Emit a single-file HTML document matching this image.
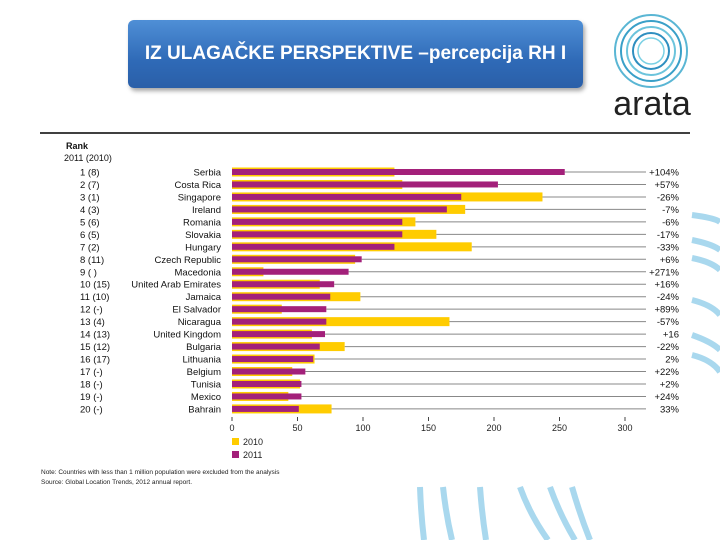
<!DOCTYPE html>
<html><head><meta charset="utf-8">
<style>
html,body{margin:0;padding:0;background:#fff;width:720px;height:540px;overflow:hidden;font-family:"Liberation Sans",sans-serif;}
#title{position:absolute;left:128px;top:20px;width:455px;height:68px;border-radius:6px;background:linear-gradient(#4f8fd6,#2f6ab7 60%,#2a5fa8);box-shadow:2px 3px 4px rgba(0,0,0,0.35);color:#fff;font-weight:bold;font-size:19px;line-height:68px;text-align:center;}
</style></head><body>
<div id="title">IZ ULAGAČKE PERSPEKTIVE –percepcija RH I</div>
<svg id="chart" width="720" height="540" style="position:absolute;left:0;top:0">
<g>
<circle cx="651" cy="51" r="36" fill="none" stroke="#5ab6d4" stroke-width="2"/>
<circle cx="651" cy="51" r="30" fill="none" stroke="#3aa0c8" stroke-width="2"/>
<circle cx="651" cy="51" r="24" fill="none" stroke="#6cc4dc" stroke-width="2"/>
<circle cx="651" cy="51" r="18" fill="none" stroke="#2f8fc0" stroke-width="2"/>
<circle cx="651" cy="51" r="13" fill="none" stroke="#7ad0e4" stroke-width="1.5"/>
<text x="652" y="115" font-size="34" text-anchor="middle" fill="#222" font-family="Liberation Sans,sans-serif">arata</text>
</g>
<line x1="40" y1="133" x2="690" y2="133" stroke="#000" stroke-width="1.5"/>
<g fill="none" stroke="#a9d8ee" stroke-width="6">
<path d="M692 215 Q715 218 720 222"/><path d="M692 240 Q712 244 720 250"/><path d="M692 258 Q712 262 720 270"/><path d="M692 300 Q712 305 720 315"/><path d="M692 335 Q712 342 720 350"/><path d="M692 355 Q712 360 720 372"/>
<path d="M420 487 Q421 515 424 540"/><path d="M443 487 Q446 515 452 540"/><path d="M480 487 Q482 515 486 540"/><path d="M520 487 Q530 515 548 540"/><path d="M550 487 Q560 515 575 540"/><path d="M572 487 Q580 515 590 540"/>
</g>
<text x="66" y="149" font-size="9" font-weight="bold" fill="#111">Rank</text>
<text x="64" y="161" font-size="9" fill="#111">2011 (2010)</text>
<g id="rows"></g>
<g id="axis"></g>
<rect x="232" y="438" width="7" height="7" fill="#ffcc00"/>
<text x="243" y="445" font-size="9" fill="#222">2010</text>
<rect x="232" y="451" width="7" height="7" fill="#a3207a"/>
<text x="243" y="458" font-size="9" fill="#222">2011</text>
<text x="41" y="474" font-size="6.5" fill="#222">Note: Countries with less than 1 million population were excluded from the analysis</text>
<text x="41" y="484" font-size="6.5" fill="#222">Source: Global Location Trends, 2012 annual report.</text>
</svg>
<script>
const countries=["Serbia","Costa Rica","Singapore","Ireland","Romania","Slovakia","Hungary","Czech Republic","Macedonia","United Arab Emirates","Jamaica","El Salvador","Nicaragua","United Kingdom","Bulgaria","Lithuania","Belgium","Tunisia","Mexico","Bahrain"];
const ranks=["1 (8)","2 (7)","3 (1)","4 (3)","5 (6)","6 (5)","7 (2)","8 (11)","9 ( )","10 (15)","11 (10)","12 (-)","13 (4)","14 (13)","15 (12)","16 (17)","17 (-)","18 (-)","19 (-)","20 (-)"];
const values2010=[124,130,237,178,140,156,183,94,24,67,98,38,166,61,86,63,46,52,43,76];
const values2011=[254,203,175,164,130,130,124,99,89,78,75,72,72,71,67,62,56,53,53,51];
const changes=["+104%","+57%","-26%","-7%","-6%","-17%","-33%","+6%","+271%","+16%","-24%","+89%","-57%","+16","-22%","2%","+22%","+2%","+24%","33%"];
const ticks=[0,50,100,150,200,250,300];
const NS="http://www.w3.org/2000/svg";
const x=v=>232+v*393/300;
const y=i=>172+i*12.47;
function mk(tag,attrs,parent,txt){const e=document.createElementNS(NS,tag);for(const k in attrs)e.setAttribute(k,attrs[k]);if(txt!==undefined)e.textContent=txt;parent.appendChild(e);return e;}
const rows=document.getElementById('rows');
countries.forEach((c,i)=>{
  const cy=y(i);
  const end=Math.max(x(values2010[i]),x(values2011[i]));
  const l=mk('line',{x1:end,y1:cy,x2:646,y2:cy,stroke:'#888','stroke-width':1},rows);
  
  
  const b1=mk('rect',{x:232,y:cy-4.5,width:x(values2010[i])-232,height:9,fill:'#ffcc00'},rows);
  
  
  const b2=mk('rect',{x:232,y:cy-3,width:x(values2011[i])-232,height:6,fill:'#a3207a'},rows);
  
  
  const t=mk('text',{x:221,y:cy+3.5,'font-size':9.5,'text-anchor':'end',fill:'#111'},rows,c);
  
  
  const r=mk('text',{x:80,y:cy+3.5,'font-size':9.5,fill:'#111'},rows,ranks[i]);
  
  
  const p=mk('text',{x:679,y:cy+3.5,'font-size':9.5,'text-anchor':'end',fill:'#111'},rows,changes[i]);
  
  
});
const ax=document.getElementById('axis');
ticks.forEach(v=>{
  const tk=mk('line',{x1:x(v),y1:417,x2:x(v),y2:421,stroke:'#444'},ax);
  
  
  const tl=mk('text',{x:x(v),y:431,'font-size':9,'text-anchor':'middle',fill:'#222'},ax,String(v));
  
  
});
</script>
</body></html>
